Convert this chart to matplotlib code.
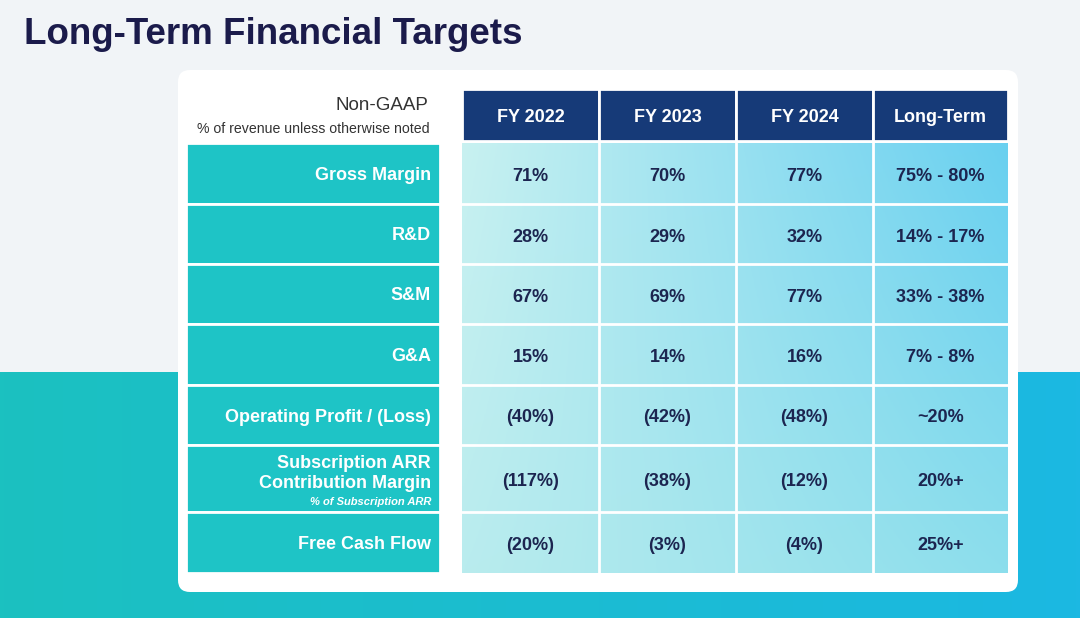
import numpy as np
import matplotlib.pyplot as plt
from matplotlib.patches import FancyBboxPatch, Rectangle

plt.rcParams['font.family'] = ['Liberation Sans', 'DejaVu Sans']

# Datos de la tabla
title = 'Long-Term Financial Targets'
columns = ['FY 2022', 'FY 2023', 'FY 2024', 'Long-Term']
rows = ['Gross Margin', 'R&D', 'S&M', 'G&A', 'Operating Profit / (Loss)',
        'Subscription ARR\nContribution Margin', 'Free Cash Flow']
values = [
    ['71%', '70%', '77%', '75% - 80%'],
    ['28%', '29%', '32%', '14% - 17%'],
    ['67%', '69%', '77%', '33% - 38%'],
    ['15%', '14%', '16%', '7% - 8%'],
    ['(40%)', '(42%)', '(48%)', '~20%'],
    ['(117%)', '(38%)', '(12%)', '20%+'],
    ['(20%)', '(3%)', '(4%)', '25%+'],
]
note_row = 5
note_text = '% of Subscription ARR'

# Geometria (pixeles)
W, H = 1080, 618
col_x = [462, 599, 736, 873, 1008]
row_y = [143, 204, 264, 324, 385, 445, 512, 573]
head_y = (89, 141)
lab_x = (186, 440)

navy = '#163a78'
teal = '#1ec4c6'
txt = '#1c2550'

fig = plt.figure(figsize=(W / 100, H / 100), dpi=100)
ax = fig.add_axes((0, 0, 1, 1))
ax.set_xlim(0, W)
ax.set_ylim(H, 0)
ax.axis('off')

# fondo
ax.add_patch(Rectangle((0, 0), W, 372, color='#f1f4f7', zorder=0))
g = np.linspace(0, 1, 256)
c0 = np.array([27, 193, 192]) / 255
c1 = np.array([28, 184, 226]) / 255
bg = (c0[None, :] * (1 - g[:, None]) + c1[None, :] * g[:, None])[None, :, :]
ax.imshow(bg, extent=(0, W, H, 372), aspect='auto', zorder=0.5)

# tarjeta blanca
ax.add_patch(FancyBboxPatch((178, 70), 840, 522, boxstyle='round,pad=0,rounding_size=12',
                            fc='white', ec='none', zorder=1))

# degradado de celdas
nx, ny = 200, 100
u = np.linspace(0, 1, nx)[None, :, None]
v = np.linspace(0, 1, ny)[:, None, None]
tl = np.array([200, 241, 241]) / 255
tr = np.array([105, 208, 240]) / 255
bl = np.array([185, 236, 238]) / 255
br = np.array([140, 222, 236]) / 255
img = (tl * (1 - u) * (1 - v) + tr * u * (1 - v) + bl * (1 - u) * v + br * u * v)
ax.imshow(img, extent=(col_x[0], col_x[-1], row_y[-1], row_y[0]), aspect='auto', zorder=2)

# cabecera
for j, c in enumerate(columns):
    ax.add_patch(Rectangle((col_x[j], head_y[0]), col_x[j + 1] - col_x[j], head_y[1] - head_y[0],
                           fc=navy, ec='white', lw=2, zorder=3))
    ax.text((col_x[j] + col_x[j + 1]) / 2, (head_y[0] + head_y[1]) / 2 + 3, c, color='white',
            fontsize=13, fontweight='bold', ha='center', va='center', zorder=4)

# lineas blancas
for y in row_y[1:-1]:
    ax.plot([col_x[0], col_x[-1]], [y, y], color='white', lw=2, zorder=3)
for x in col_x[1:-1]:
    ax.plot([x, x], [row_y[0], row_y[-1]], color='white', lw=2, zorder=3)

# filas
for i, r in enumerate(rows):
    y0, y1 = row_y[i], row_y[i + 1]
    ax.add_patch(Rectangle((lab_x[0], y0), lab_x[1] - lab_x[0], y1 - y0,
                           fc=teal, ec='white', lw=2, zorder=3))
    yc = (y0 + y1) / 2
    if i == note_row:
        for k, line in enumerate(r.split('\n')):
            ax.text(431, 464 + 20 * k, line, color='white', fontsize=13, fontweight='bold',
                    ha='right', va='center', zorder=4)
        ax.text(431, 502, note_text, color='white', fontsize=8, fontweight='bold',
                style='italic', ha='right', va='center', zorder=4)
    else:
        ax.text(431, yc + 2, r, color='white', fontsize=13, fontweight='bold',
                ha='right', va='center', zorder=4)
    for j, val in enumerate(values[i]):
        ax.text((col_x[j] + col_x[j + 1]) / 2, yc + 3, val, color=txt, fontsize=13,
                fontweight='bold', ha='center', va='center', zorder=4)

ax.text(428, 106, 'Non-GAAP', color='#333333', fontsize=13.5, ha='right', va='center', zorder=4)
ax.text(430, 129, '% of revenue unless otherwise noted', color='#333333', fontsize=10.2,
        ha='right', va='center', zorder=4)

ax.text(24, 35, title, color='#1b1b4b', fontsize=26.5, fontweight='bold', ha='left', va='center')

fig.savefig('out.png', dpi=100)
